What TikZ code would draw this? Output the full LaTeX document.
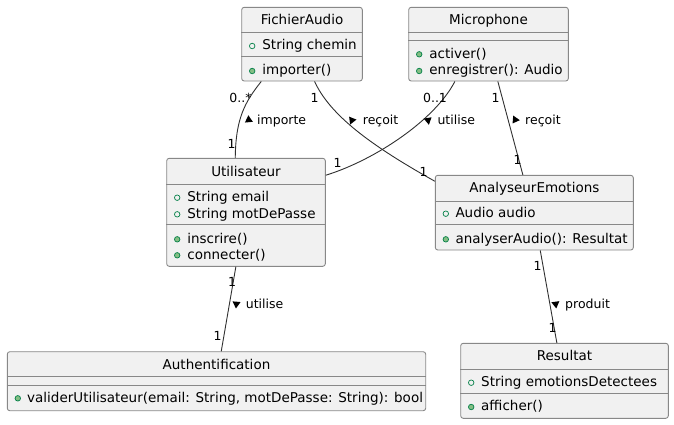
\documentclass[tikz,border=0pt]{standalone}
\usepackage{fontspec}
\setmainfont{DejaVu Sans}
\usetikzlibrary{calc}
\definecolor{boxfill}{HTML}{F1F1F1}
\definecolor{boxline}{HTML}{888888}
\definecolor{conn}{HTML}{303030}
\definecolor{mgreen}{HTML}{038048}
\definecolor{mfill}{HTML}{84BE84}
\tikzset{
  cls/.style={draw=boxline, fill=boxfill, line width=0.9pt, rounded corners=2.5pt, inner sep=0pt},
  sepline/.style={draw=boxline, line width=0.9pt},
  ttl/.style={inner sep=0pt, font=\fontsize{13.5}{16}\selectfont, text height=9.8pt, text depth=0pt},
  mem/.style={anchor=west, inner sep=0pt, font=\fontsize{13.5}{16}\selectfont, text height=9.8pt, text depth=0pt},
  lbl/.style={anchor=west, inner sep=0pt, font=\fontsize{12.5}{15}\selectfont, text height=9pt, text depth=0pt},
  mult/.style={inner sep=0pt, font=\fontsize{12.5}{15}\selectfont, text height=9pt, text depth=0pt},
  fieldc/.style={circle, draw=mgreen, line width=0.7pt, minimum size=5.5pt, inner sep=0pt},
  methc/.style={circle, draw=mgreen, fill=mfill, line width=0.7pt, minimum size=5.5pt, inner sep=0pt},
  assoc/.style={draw=conn, line width=0.9pt},
  dirtri/.style={fill=black}
}
% direction triangle: centre (#1,#2) in y-down units, pointing at visual angle #3
\newcommand{\dtri}[3]{%
  \pgfmathsetmacro\dtAx{#1+4.2*cos(#3)}\pgfmathsetmacro\dtAy{#2-4.2*sin(#3)}%
  \pgfmathsetmacro\dtBx{#1+4.8*cos(#3+123)}\pgfmathsetmacro\dtBy{#2-4.8*sin(#3+123)}%
  \pgfmathsetmacro\dtCx{#1+4.8*cos(#3-123)}\pgfmathsetmacro\dtCy{#2-4.8*sin(#3-123)}%
  \fill[dirtri] (\dtAx,\dtAy) -- (\dtBx,\dtBy) -- (\dtCx,\dtCy) -- cycle;}
\begin{document}
\begin{tikzpicture}[x=1pt, y=-1pt]
\useasboundingbox (0,0) rectangle (674,424);

% ---------- FichierAudio
\node[cls, minimum width=120.6pt, minimum height=73.7pt] (fa) at (302,44.15) {};
\draw[sepline] ($(fa.north west)+(0,26)$) -- ($(fa.north east)+(0,26)$);
\draw[sepline] ($(fa.north west)+(0,50)$) -- ($(fa.north east)+(0,50)$);
\node[ttl] (fat) at ($(fa.north)+(0,12.8)$) {FichierAudio};
\node[fieldc] (fam1c) at (252.2,46) {};
\node[mem] (fam1) at (262.2,45) {String chemin};
\node[methc] (fam2c) at (252.2,71) {};
\node[mem] (fam2) at (262.2,70) {importer()};

% ---------- Microphone
\node[cls, minimum width=159.6pt, minimum height=73.7pt] (mic) at (488.5,44.15) {};
\draw[sepline] ($(mic.north west)+(0,26)$) -- ($(mic.north east)+(0,26)$);
\draw[sepline] ($(mic.north west)+(0,34)$) -- ($(mic.north east)+(0,34)$);
\node[ttl] (mict) at ($(mic.north)+(0,12.8)$) {Microphone};
\node[methc] (micm1c) at (419.2,54.3) {};
\node[mem] (micm1) at (429.2,53.3) {activer()};
\node[methc] (micm2c) at (419.2,71) {};
\node[mem] (micm2) at (429.2,70) {enregistrer(): Audio};

% ---------- Utilisateur
\node[cls, minimum width=158.6pt, minimum height=108pt] (ut) at (246,212.3) {};
\draw[sepline] ($(ut.north west)+(0,26.7)$) -- ($(ut.north east)+(0,26.7)$);
\draw[sepline] ($(ut.north west)+(0,67)$) -- ($(ut.north east)+(0,67)$);
\node[ttl] (utt) at ($(ut.north)+(0,13.4)$) {Utilisateur};
\node[fieldc] (utm1c) at (177.2,197.7) {};
\node[mem] (utm1) at (187.2,196.7) {String email};
\node[fieldc] (utm2c) at (177.2,214.3) {};
\node[mem] (utm2) at (187.2,213.3) {String motDePasse};
\node[methc] (utm3c) at (177.2,239.3) {};
\node[mem] (utm3) at (187.2,238.3) {inscrire()};
\node[methc] (utm4c) at (177.2,255.3) {};
\node[mem] (utm4) at (187.2,254.3) {connecter()};

% ---------- AnalyseurEmotions
\node[cls, minimum width=198pt, minimum height=74.7pt] (an) at (534.3,212.65) {};
\draw[sepline] ($(an.north west)+(0,26.4)$) -- ($(an.north east)+(0,26.4)$);
\draw[sepline] ($(an.north west)+(0,50)$) -- ($(an.north east)+(0,50)$);
\node[ttl] (ant) at ($(an.north)+(0,12.4)$) {AnalyseurEmotions};
\node[fieldc] (anm1c) at (445.8,213.7) {};
\node[mem] (anm1) at (455.3,212.7) {Audio audio};
\node[methc] (anm2c) at (445.8,239.3) {};
\node[mem] (anm2) at (455.3,238.3) {analyserAudio(): Resultat};

% ---------- Resultat
\node[cls, minimum width=207.6pt, minimum height=75pt] (res) at (564.5,380.8) {};
\draw[sepline] ($(res.north west)+(0,26.4)$) -- ($(res.north east)+(0,26.4)$);
\draw[sepline] ($(res.north west)+(0,50.4)$) -- ($(res.north east)+(0,50.4)$);
\node[ttl] (rest) at ($(res.north)+(0,12.4)$) {Resultat};
\node[fieldc] (resm1c) at (471.2,382.7) {};
\node[mem] (resm1) at (481,381.7) {String emotionsDetectees};
\node[methc] (resm2c) at (471.2,407) {};
\node[mem] (resm2) at (481,406) {afficher()};

% ---------- Authentification
\node[cls, minimum width=418.4pt, minimum height=59pt] (auth) at (216.5,381.2) {};
\draw[sepline] ($(auth.north west)+(0,25.6)$) -- ($(auth.north east)+(0,25.6)$);
\draw[sepline] ($(auth.north west)+(0,34)$) -- ($(auth.north east)+(0,34)$);
\node[ttl] (autht) at ($(auth.north)+(0,13.3)$) {Authentification};
\node[methc] (authm1c) at (17.8,398.3) {};
\node[mem] (authm1) at (27,397.3) {validerUtilisateur(email: String, motDePasse: String): bool};

% ---------- connectors
% FichierAudio -- Utilisateur : importe
\draw[assoc] ($(fa.south west)+(20,0)$) .. controls (245,102) and (235.7,118) .. ($(ut.north west)+(69,0)$);
% FichierAudio -- AnalyseurEmotions : reçoit
\draw[assoc] ($(fa.south west)+(73.3,0)$) .. controls (330,115) and (370,145) .. ($(an.north west)+(0,6.4)$);
% Microphone -- Utilisateur : utilise
\draw[assoc] ($(mic.south west)+(46.6,0)$) .. controls (435,120) and (375,160) .. ($(ut.north east)+(0,17.4)$);
% Microphone -- AnalyseurEmotions : reçoit
\draw[assoc] ($(mic.south west)+(89.6,0)$) -- ($(an.north west)+(88,0)$);
% Utilisateur -- Authentification : utilise
\draw[assoc] ($(ut.south west)+(69.6,0)$) -- ($(auth.north west)+(214.4,0)$);
% AnalyseurEmotions -- Resultat : produit
\draw[assoc] ($(an.south west)+(105.4,0)$) -- ($(res.north west)+(96.6,0)$);

% ---------- association labels
\dtri{249}{120}{-25}
\node[lbl] (l1) at (257,120) {importe};
\dtri{351.7}{120}{128}
\node[lbl] (l2) at (362.7,120) {reçoit};
\dtri{428.3}{120}{40}
\node[lbl] (l3) at (437.3,120) {utilise};
\dtri{515}{120}{-125}
\node[lbl] (l4) at (525,120) {reçoit};
\dtri{236.3}{304.3}{-95}
\node[lbl] (l5) at (245.7,304.3) {utilise};
\dtri{555.7}{304.3}{-82}
\node[lbl] (l6) at (565,304.3) {produit};

% ---------- multiplicities
\node[mult] (m1) at (240.5,97.7) {0..*};
\node[mult] (m2) at (231.5,144) {1};
\node[mult] (m3) at (314.5,97.7) {1};
\node[mult] (m4) at (423.5,171.7) {1};
\node[mult] (m5) at (435,97.7) {0..1};
\node[mult] (m6) at (337.5,163.3) {1};
\node[mult] (m7) at (495.5,97.7) {1};
\node[mult] (m8) at (517.5,160) {1};
\node[mult] (m9) at (232,281.7) {1};
\node[mult] (m10) at (217.5,335.7) {1};
\node[mult] (m11) at (537.5,266) {1};
\node[mult] (m12) at (552.5,327.7) {1};
\end{tikzpicture}
\end{document}
